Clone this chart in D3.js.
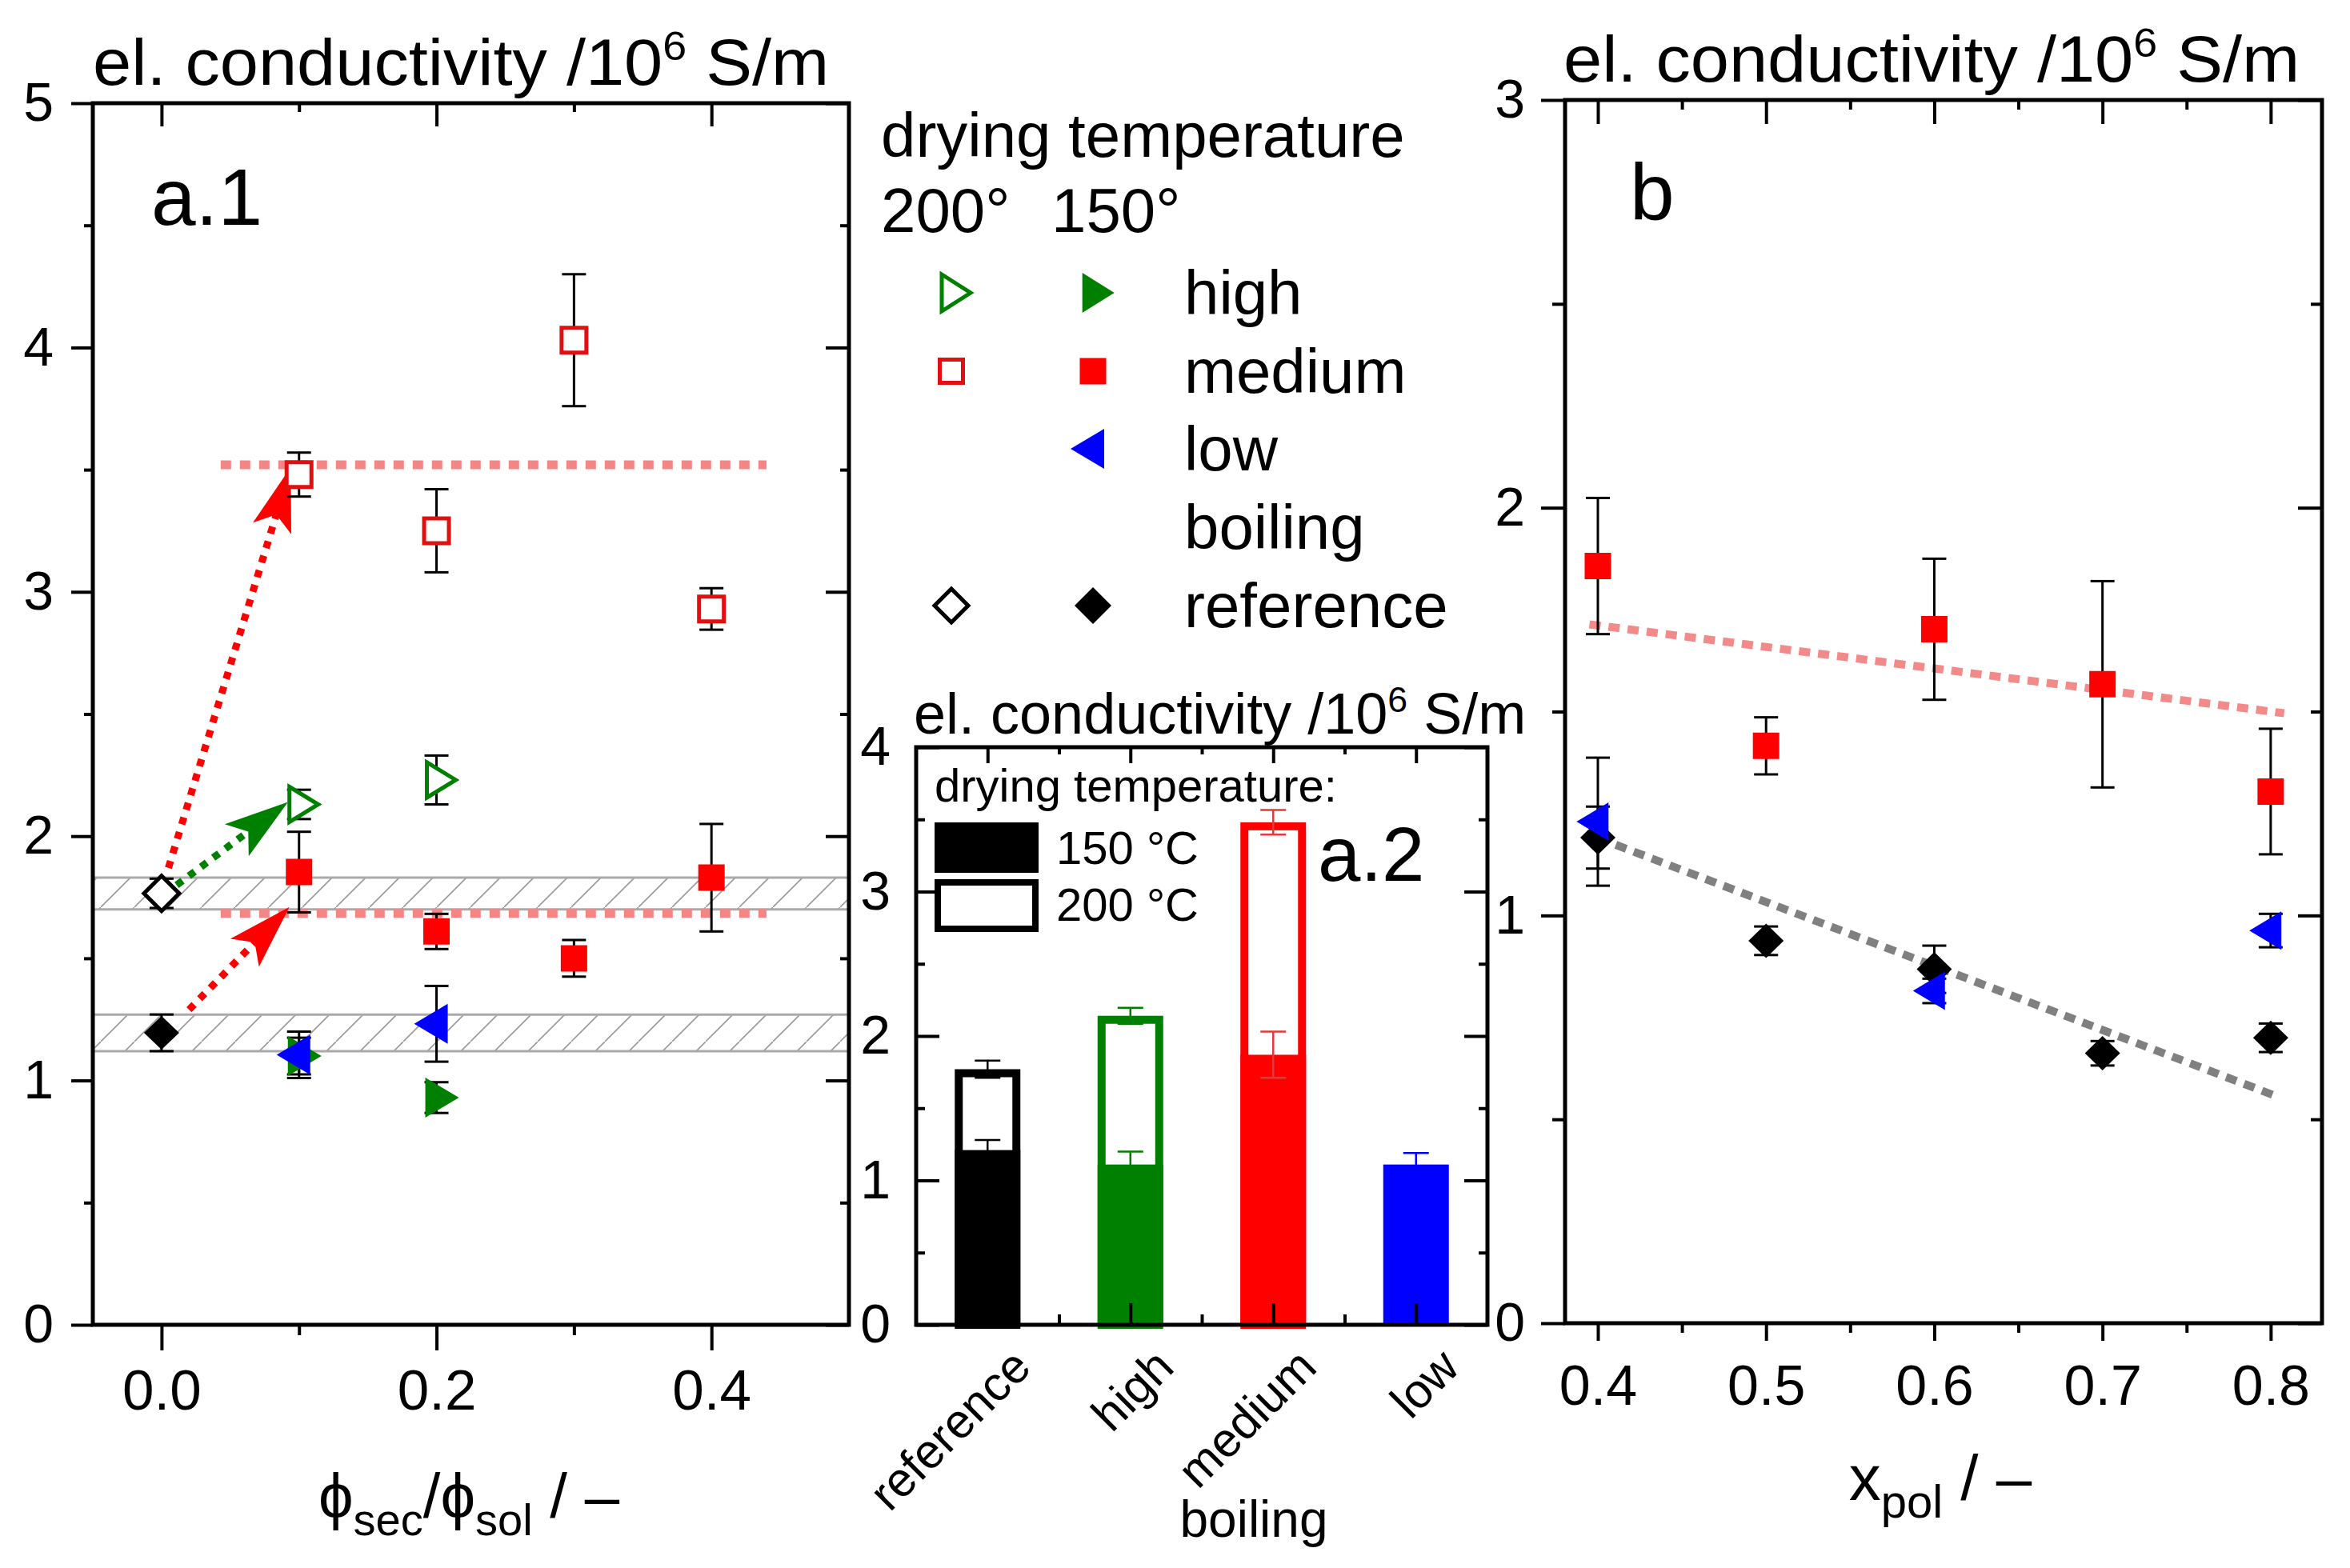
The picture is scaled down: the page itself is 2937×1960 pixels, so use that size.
<!DOCTYPE html>
<html>
<head>
<meta charset="utf-8">
<script src="https://cdn.jsdelivr.net/npm/d3@7"></script>
<style>
  body { margin: 0; background: #fff; }
</style>
</head>
<body>
<div id="chart"></div>
<script>
// ---------- data: panel a.1 (x = phi_sec / phi_sol) ----------
var medium200X = [0.1, 0.2, 0.3, 0.4];
var medium200 = [3.48, 3.25, 4.03, 2.93];
var medium200Err = [0.09, 0.17, 0.27, 0.085];
var medium150X = [0.1, 0.2, 0.3, 0.4];
var medium150 = [1.853, 1.61, 1.50, 1.83];
var medium150Err = [0.165, 0.072, 0.075, 0.22];
var high200X = [0.1, 0.2];
var high200 = [2.13, 2.23];
var high200Err = [0.06, 0.10];
var high150X = [0.1, 0.2];
var high150 = [1.10, 0.93];
var high150Err = [0.075, 0.063];
var low150X = [0.1, 0.2];
var low150 = [1.105, 1.232];
var low150Err = [0.095, 0.155];
var ref200X = [0];
var ref200 = [1.766];
var ref200Err = [0.06];
var ref150X = [0];
var ref150 = [1.195];
var ref150Err = [0.075];

// hatched reference bands and dotted guide levels
var bandLow = [1.70, 1.12];
var bandHigh = [1.83, 1.27];
var guideLevels = [3.52, 1.684];
var guideX = [0.043, 0.44];

// annotation arrows (start -> tip)
var arrowFromX = [0.005, 0.011, 0.020];
var arrowFromY = [1.87, 1.80, 1.29];
var arrowToX = [0.094, 0.092, 0.093];
var arrowToY = [3.51, 2.14, 1.71];
var arrowColors = ["#ff0000", "#008000", "#ff0000"];

// ---------- data: panel a.2 (bars) ----------
var barCats = ["reference", "high", "medium", "low"];
var bar150 = [1.21, 1.11, 1.87, 1.11];
var bar150Err = [0.07, 0.09, 0.16, 0.08];
var bar200 = [1.77, 2.14, 3.48, null];
var bar200Err = [0.06, 0.055, 0.085, null];
var barColors = ["#000000", "#008000", "#ff0000", "#0000ff"];
var barErrColors = ["#000000", "#008000", "#e03a3a", "#0000ff"];

// ---------- data: panel b (x = x_pol) ----------
var xpol = [0.4, 0.5, 0.6, 0.7, 0.8];
var bMedium = [1.857, 1.416, 1.702, 1.567, 1.304];
var bMediumErr = [0.167, 0.07, 0.173, 0.253, 0.154];
var bRef = [1.191, 0.938, 0.868, 0.662, 0.700];
var bRefErr = [0.076, 0.035, 0.058, 0.03, 0.035];
var bLowX = [0.4, 0.6, 0.8];
var bLow = [1.23, 0.815, 0.963];
var bLowErr = [0.157, 0.03, 0.041];
var trendMediumX = [0.395, 0.808];
var trendMedium = [1.714, 1.496];
var trendRefX = [0.4, 0.802];
var trendRef = [1.19, 0.559];

var yMajor5 = [0, 1, 2, 3, 4, 5];
var yMinor5 = [0.5, 1.5, 2.5, 3.5, 4.5];
var yMajor4 = [0, 1, 2, 3, 4];
var yMinor4 = [0.5, 1.5, 2.5, 3.5];
var yMajor3 = [0, 1, 2, 3];
var yMinor3 = [0.5, 1.5, 2.5];

// ---------- svg ----------
var W = 2937, H = 1960;
var FONT = "'Liberation Sans', Arial, sans-serif";

var svg = d3.select("#chart")
            .append("svg")
            .attr("width", W)
            .attr("height", H)
            .attr("viewBox", `0 0 ${W} ${H}`)
            .style("font-family", FONT);

// scales
var x1 = d3.scaleLinear().domain([-0.05, 0.5]).range([116, 1061]);
var y1 = d3.scaleLinear().domain([0, 5]).range([1656, 129]);

var x2 = d3.scalePoint().domain(barCats).range([1145, 1859]).padding(0.5);
var x2b = d3.scaleLinear().domain([0, 4]).range([1145, 1859]);
var y2 = d3.scaleLinear().domain([0, 4]).range([1656, 934]);

var xb = d3.scaleLinear().domain([0.3805, 0.8305]).range([1956, 2902]);
var yb = d3.scaleLinear().domain([0, 3]).range([1654, 125]);

// helpers
function addAxis(axis, tx, ty, fs) {
  var g = svg.append("g")
             .attr("transform", `translate(${tx}, ${ty})`)
             .call(axis);
  g.select(".domain").remove();
  g.selectAll(".tick line").attr("stroke", "#000").attr("stroke-width", 4);
  g.attr("font-family", FONT).attr("font-size", fs || 60);
  g.selectAll("text").attr("fill", "#000");
  return g;
}

function frame(xs, ys) {
  svg.append("rect")
     .attr("x", xs.range()[0])
     .attr("y", ys.range()[1])
     .attr("width", xs.range()[1] - xs.range()[0])
     .attr("height", ys.range()[0] - ys.range()[1])
     .attr("fill", "none")
     .attr("stroke", "#000")
     .attr("stroke-width", 5);
}

function shapePath(type, w, h) {
  if (type === "square") return `M${-w/2},${-h/2}h${w}v${h}h${-w}Z`;
  if (type === "diamond") return `M0,${-h/2}L${w/2},0L0,${h/2}L${-w/2},0Z`;
  if (type === "triR") return `M${-w/3},${-h/2}L${2*w/3},0L${-w/3},${h/2}Z`;
  if (type === "triL") return `M${w/3},${-h/2}L${-2*w/3},0L${w/3},${h/2}Z`;
}

function errorBars(layer, xs, ys, errs, xScale, yScale, color, cap, sw) {
  xs.forEach(function (xv, i) {
    var cx = xScale(xv), lo = yScale(ys[i] - errs[i]), hi = yScale(ys[i] + errs[i]);
    layer.append("line").attr("x1", cx).attr("x2", cx).attr("y1", lo).attr("y2", hi)
         .attr("stroke", color).attr("stroke-width", sw);
    [lo, hi].forEach(function (yy) {
      layer.append("line").attr("x1", cx - cap / 2).attr("x2", cx + cap / 2)
           .attr("y1", yy).attr("y2", yy)
           .attr("stroke", color).attr("stroke-width", sw);
    });
  });
}

function markers(layer, xs, ys, xScale, yScale, type, w, h, fill, stroke, sw) {
  layer.selectAll(null)
       .data(xs)
       .enter()
       .append("path")
       .attr("transform", (d, i) => `translate(${xScale(d)}, ${yScale(ys[i])})`)
       .attr("d", shapePath(type, w, h))
       .attr("fill", fill)
       .attr("stroke", stroke || "none")
       .attr("stroke-width", sw || 0)
       .attr("stroke-linejoin", "miter");
}

// axis title with superscript, stretched a little horizontally like the original
function condTitle(x, y, fs, sx) {
  var t = svg.append("g").attr("transform", `translate(${x}, ${y}) scale(${sx}, 1)`)
             .append("text").attr("font-size", fs).attr("fill", "#000");
  t.append("tspan").text("el. conductivity /10");
  t.append("tspan").attr("font-size", fs * 0.62).attr("dy", -fs * 0.38).text("6");
  t.append("tspan").attr("dy", fs * 0.38).text(" S/m");
}

function label(x, y, fs, txt, anchor) {
  return svg.append("text").attr("x", x).attr("y", y).attr("font-size", fs)
            .attr("text-anchor", anchor || "start").attr("fill", "#000").text(txt);
}

// hatch pattern
var defs = svg.append("defs");
var hatch = defs.append("pattern")
                .attr("id", "hatch")
                .attr("patternUnits", "userSpaceOnUse")
                .attr("width", 42)
                .attr("height", 42);
hatch.append("line").attr("x1", 0).attr("y1", 42).attr("x2", 42).attr("y2", 0)
     .attr("stroke", "#9a9a9a").attr("stroke-width", 1.6);

// ================= panel a.1 =================
var a1 = svg.append("g");
var bandG = a1.append("g");
bandLow.forEach(function (lo, i) {
  var top = y1(bandHigh[i]), bot = y1(lo);
  bandG.append("rect").attr("x", x1.range()[0]).attr("y", top)
       .attr("width", x1.range()[1] - x1.range()[0]).attr("height", bot - top)
       .attr("fill", "url(#hatch)");
  [top, bot].forEach(function (yy) {
    bandG.append("line").attr("x1", x1.range()[0]).attr("x2", x1.range()[1])
         .attr("y1", yy).attr("y2", yy).attr("stroke", "#aaaaaa").attr("stroke-width", 3);
  });
});

guideLevels.forEach(function (lv) {
  a1.append("line").attr("x1", x1(guideX[0])).attr("x2", x1(guideX[1]))
    .attr("y1", y1(lv)).attr("y2", y1(lv))
    .attr("stroke", "#f38585").attr("stroke-width", 11)
    .attr("stroke-dasharray", "13 11");
});

// arrows
arrowFromX.forEach(function (fx, i) {
  var sx = x1(fx), sy = y1(arrowFromY[i]), tx = x1(arrowToX[i]), ty = y1(arrowToY[i]);
  var dx = tx - sx, dy = ty - sy, len = Math.hypot(dx, dy), ux = dx / len, uy = dy / len;
  var px = -uy, py = ux, L = 80, Wd = 25, N = 18;
  var bx = tx - ux * L, by = ty - uy * L, nx = tx - ux * (L - N), ny = ty - uy * (L - N);
  a1.append("line").attr("x1", sx).attr("y1", sy).attr("x2", nx).attr("y2", ny)
    .attr("stroke", arrowColors[i]).attr("stroke-width", 9).attr("stroke-dasharray", "9 10");
  a1.append("path")
    .attr("d", `M${tx},${ty}L${bx + px * Wd},${by + py * Wd}L${nx},${ny}L${bx - px * Wd},${by - py * Wd}Z`)
    .attr("fill", arrowColors[i]);
});

var errA1 = a1.append("g"), markA1 = a1.append("g");
errorBars(errA1, medium200X, medium200, medium200Err, x1, y1, "#000", 30, 3);
errorBars(errA1, medium150X, medium150, medium150Err, x1, y1, "#000", 30, 3);
errorBars(errA1, high200X, high200, high200Err, x1, y1, "#000", 30, 3);
errorBars(errA1, high150X, high150, high150Err, x1, y1, "#000", 30, 3);
errorBars(errA1, low150X, low150, low150Err, x1, y1, "#000", 30, 3);
errorBars(errA1, ref200X, ref200, ref200Err, x1, y1, "#000", 30, 3);
errorBars(errA1, ref150X, ref150, ref150Err, x1, y1, "#000", 30, 3);

markers(markA1, medium200X, medium200, x1, y1, "square", 31, 31, "#fff", "#e01010", 5);
markers(markA1, medium150X, medium150, x1, y1, "square", 33, 33, "#ff0000");
markers(markA1, high200X, high200, x1, y1, "triR", 36, 44, "#fff", "#008000", 5);
markers(markA1, high150X, high150, x1, y1, "triR", 42, 50, "#008000");
markers(markA1, low150X, low150, x1, y1, "triL", 42, 50, "#0000ff");
markers(markA1, ref200X, ref200, x1, y1, "diamond", 44, 44, "#fff", "#000", 5);
markers(markA1, ref150X, ref150, x1, y1, "diamond", 44, 42, "#000");

addAxis(d3.axisLeft(y1).tickValues(yMajor5).tickSize(27).tickPadding(22).tickFormat(d3.format("d")), x1.range()[0], 0, 68);
addAxis(d3.axisLeft(y1).tickValues(yMinor5).tickSize(11).tickFormat(""), x1.range()[0], 0);
addAxis(d3.axisRight(y1).tickValues(yMajor5).tickSize(-29).tickFormat(""), x1.range()[1], 0);
addAxis(d3.axisRight(y1).tickValues(yMinor5).tickSize(-11).tickFormat(""), x1.range()[1], 0);
addAxis(d3.axisBottom(x1).tickValues([0, 0.2, 0.4]).tickSize(32).tickPadding(24).tickFormat(d3.format(".1f")), 0, y1.range()[0], 71);
addAxis(d3.axisBottom(x1).tickValues([0.1, 0.3]).tickSize(13).tickFormat(""), 0, y1.range()[0]);
addAxis(d3.axisTop(x1).tickValues([0, 0.2, 0.4]).tickSize(-29).tickFormat(""), 0, y1.range()[1]);
addAxis(d3.axisTop(x1).tickValues([0.1, 0.3]).tickSize(-11).tickFormat(""), 0, y1.range()[1]);
frame(x1, y1);

condTitle(116, 106, 82, 1.056);
label(189, 281, 100, "a.1");

var xt1 = svg.append("text").attr("x", 586).attr("y", 1897).attr("font-size", 78)
             .attr("text-anchor", "middle").attr("fill", "#000");
xt1.append("tspan").text("ϕ");
xt1.append("tspan").attr("font-size", 56).attr("dy", 22).text("sec");
xt1.append("tspan").attr("dy", -22).text("/ϕ");
xt1.append("tspan").attr("font-size", 56).attr("dy", 22).text("sol");
xt1.append("tspan").attr("dy", -22).text(" / –");

// ================= legend (center) =================
var legRows = ["high", "medium", "low", "boiling", "reference"];
var legRowY = [366, 464, 561, 659, 757];
var legOpen = ["triR", "square", null, null, "diamond"];
var legFilled = ["triR", "square", "triL", null, "diamond"];
var legColors = ["#008000", "#ff0000", "#0000ff", null, "#000000"];
var legOpenStroke = ["#008000", "#e01010", null, null, "#000000"];

label(1101, 196, 78, "drying temperature");
label(1101, 290, 78, "200°");
label(1314, 290, 78, "150°");
var legG = svg.append("g");
legRows.forEach(function (r, i) {
  label(1480, legRowY[i] + 27, 78, r);
  var wh = { triR: [40, 50], triL: [42, 50], square: [33, 33], diamond: [46, 46] };
  if (legOpen[i]) {
    var s = wh[legOpen[i]];
    legG.append("path").attr("transform", `translate(1189, ${legRowY[i]})`)
        .attr("d", shapePath(legOpen[i], s[0] - 4, s[1] - 4))
        .attr("fill", "#fff").attr("stroke", legOpenStroke[i]).attr("stroke-width", 5);
  }
  if (legFilled[i]) {
    var f = wh[legFilled[i]];
    legG.append("path").attr("transform", `translate(1366, ${legRowY[i]})`)
        .attr("d", shapePath(legFilled[i], f[0], f[1]))
        .attr("fill", legColors[i]);
  }
});

// ================= panel a.2 =================
var a2 = svg.append("g");
var barW = 82;
barCats.forEach(function (c, i) {
  var cx = x2(c);
  if (bar200[i] != null) {
    a2.append("rect").attr("x", cx - barW / 2 + 5).attr("y", y2(bar200[i]) + 5)
      .attr("width", barW - 10).attr("height", y2(0) - y2(bar200[i]) - 5)
      .attr("fill", "#fff").attr("stroke", barColors[i]).attr("stroke-width", 10);
    errorBars(a2, [c], [bar200[i]], [bar200Err[i]], x2, y2, barErrColors[i], 32, 2.5);
  }
  a2.append("rect").attr("x", cx - barW / 2).attr("y", y2(bar150[i]))
    .attr("width", barW).attr("height", y2(0) - y2(bar150[i]))
    .attr("fill", barColors[i]);
  errorBars(a2, [c], [bar150[i]], [bar150Err[i]], x2, y2, barErrColors[i], 32, 2.5);
});

addAxis(d3.axisLeft(y2).tickValues(yMajor4).tickSize(-29).tickPadding(32).tickFormat(d3.format("d")), x2b.range()[0], 0, 68);
addAxis(d3.axisLeft(y2).tickValues(yMinor4).tickSize(-11).tickFormat(""), x2b.range()[0], 0);
addAxis(d3.axisRight(y2).tickValues(yMajor4).tickSize(-29).tickFormat(""), x2b.range()[1], 0);
addAxis(d3.axisRight(y2).tickValues(yMinor4).tickSize(-11).tickFormat(""), x2b.range()[1], 0);
addAxis(d3.axisTop(x2).tickSize(-20).tickFormat(""), 0, y2.range()[1]);
addAxis(d3.axisTop(x2b).tickValues([1, 2, 3]).tickSize(-9).tickFormat(""), 0, y2.range()[1]);
addAxis(d3.axisBottom(x2).tickSize(-27).tickFormat(""), 0, y2.range()[0]);
addAxis(d3.axisBottom(x2b).tickValues([1, 2, 3]).tickSize(-13).tickFormat(""), 0, y2.range()[0]);
frame(x2b, y2);

barCats.forEach(function (c) {
  svg.append("text")
     .attr("transform", `translate(${x2(c) + 57}, 1712) rotate(-45)`)
     .attr("text-anchor", "end").attr("font-size", 60).attr("fill", "#000")
     .text(c);
});
label(1567, 1921, 64, "boiling", "middle");

condTitle(1142, 917, 72, 1.0);
label(1168, 1002, 58, "drying temperature:");
svg.append("rect").attr("x", 1168).attr("y", 1028).attr("width", 130).attr("height", 63).attr("fill", "#000");
svg.append("rect").attr("x", 1172).attr("y", 1103).attr("width", 122).attr("height", 58)
   .attr("fill", "#fff").attr("stroke", "#000").attr("stroke-width", 8);
label(1320, 1080, 58, "150 °C");
label(1320, 1151, 58, "200 °C");
label(1647, 1101, 96, "a.2");

// ================= panel b =================
var bG = svg.append("g");
bG.append("line").attr("x1", xb(trendMediumX[0])).attr("y1", yb(trendMedium[0]))
  .attr("x2", xb(trendMediumX[1])).attr("y2", yb(trendMedium[1]))
  .attr("stroke", "#f28a8a").attr("stroke-width", 10).attr("stroke-dasharray", "14 10");
bG.append("line").attr("x1", xb(trendRefX[0])).attr("y1", yb(trendRef[0]))
  .attr("x2", xb(trendRefX[1])).attr("y2", yb(trendRef[1]))
  .attr("stroke", "#808080").attr("stroke-width", 10).attr("stroke-dasharray", "14 10");

var errB = bG.append("g"), markB = bG.append("g");
errorBars(errB, xpol, bMedium, bMediumErr, xb, yb, "#000", 30, 3);
errorBars(errB, xpol, bRef, bRefErr, xb, yb, "#000", 30, 3);
errorBars(errB, bLowX, bLow, bLowErr, xb, yb, "#000", 30, 3);
markers(markB, xpol, bMedium, xb, yb, "square", 33, 33, "#ff0000");
markers(markB, xpol, bRef, xb, yb, "diamond", 44, 43, "#000");
markers(markB, bLowX, bLow, xb, yb, "triL", 40, 48, "#0000ff");

addAxis(d3.axisLeft(yb).tickValues(yMajor3).tickSize(30).tickPadding(20).tickFormat(d3.format("d")), xb.range()[0], 0, 68);
addAxis(d3.axisLeft(yb).tickValues(yMinor3).tickSize(16).tickFormat(""), xb.range()[0], 0);
addAxis(d3.axisRight(yb).tickValues(yMajor3).tickSize(-30).tickFormat(""), xb.range()[1], 0);
addAxis(d3.axisRight(yb).tickValues(yMinor3).tickSize(-14).tickFormat(""), xb.range()[1], 0);
addAxis(d3.axisBottom(xb).tickValues(xpol).tickSize(22).tickPadding(30).tickFormat(d3.format(".1f")), 0, yb.range()[0], 70);
addAxis(d3.axisBottom(xb).tickValues([0.45, 0.55, 0.65, 0.75]).tickSize(12).tickFormat(""), 0, yb.range()[0]);
addAxis(d3.axisTop(xb).tickValues(xpol).tickSize(-30).tickFormat(""), 0, yb.range()[1]);
addAxis(d3.axisTop(xb).tickValues([0.45, 0.55, 0.65, 0.75]).tickSize(-12).tickFormat(""), 0, yb.range()[1]);
frame(xb, yb);

condTitle(1954, 102, 82, 1.056);
label(2037, 275, 100, "b");

var xtb = svg.append("text").attr("x", 2425).attr("y", 1875).attr("font-size", 80)
             .attr("text-anchor", "middle").attr("fill", "#000");
xtb.append("tspan").text("x");
xtb.append("tspan").attr("font-size", 58).attr("dy", 22).text("pol");
xtb.append("tspan").attr("dy", -22).text("  / –");
</script>
</body>
</html>
